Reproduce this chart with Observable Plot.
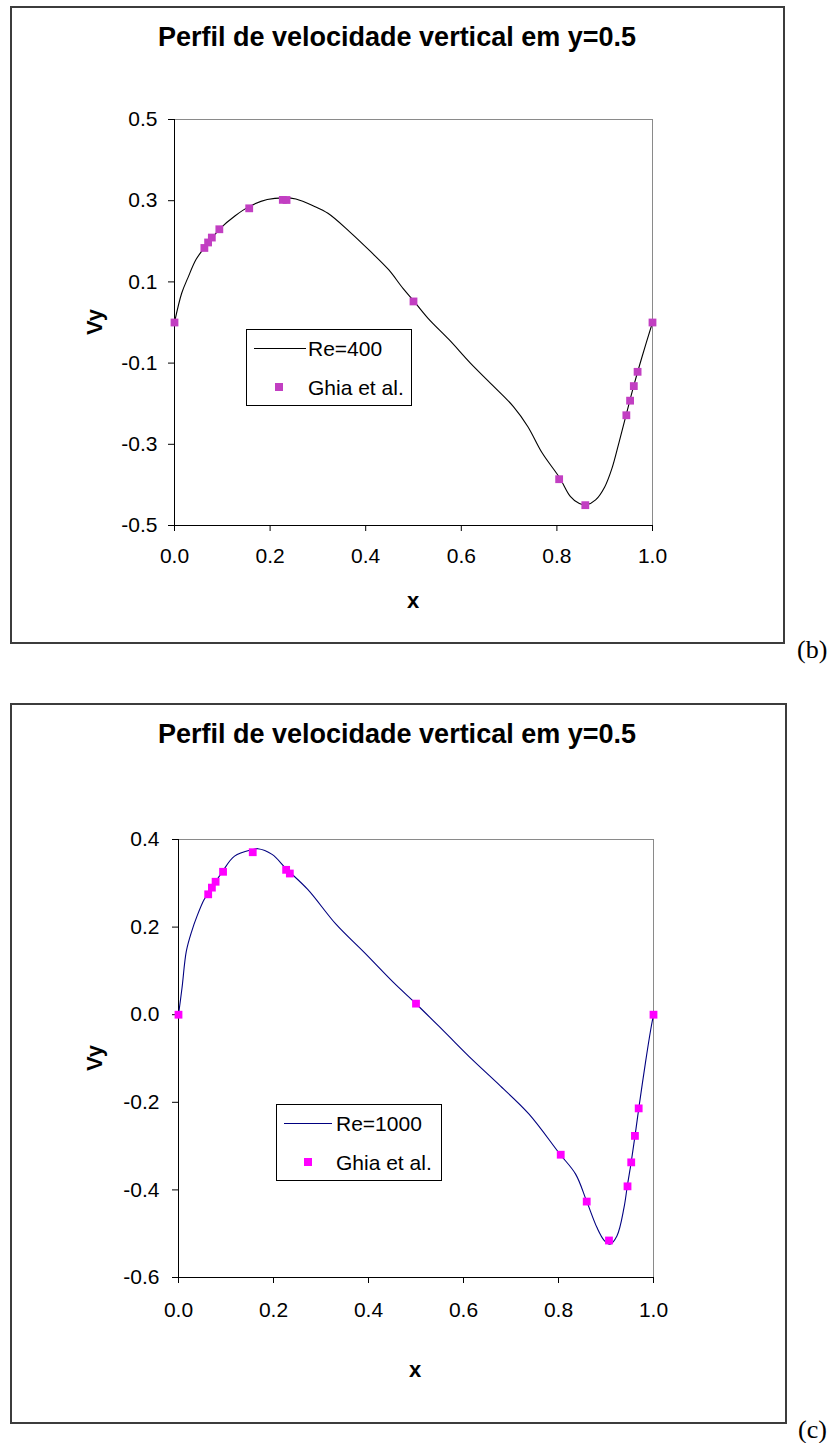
<!DOCTYPE html>
<html><head><meta charset="utf-8">
<script src="https://cdn.jsdelivr.net/npm/d3@7"></script>
<script src="https://cdn.jsdelivr.net/npm/@observablehq/plot@0.6"></script>
<style>
body{margin:0;background:#fff;}
#page{position:relative;width:828px;height:1443px;overflow:hidden;font-family:"Liberation Sans",Arial,sans-serif;color:#000;}
.box{position:absolute;border:2px solid #3c3c3c;box-sizing:border-box;}
.t{position:absolute;white-space:nowrap;line-height:1;transform:translate(-50%,-50%);}
.l{position:absolute;white-space:nowrap;line-height:1;transform:translate(0,-50%);font-size:21px;}
.lg{position:absolute;border:1px solid #000;box-sizing:border-box;background:#fff;}
.tag{position:absolute;font-family:"Liberation Serif","Times New Roman",serif;font-size:26px;line-height:1;transform:translate(0,-50%);}
</style></head><body><div id="page"></div>
<script>
// ---- data ----
const ghiaX400 = [0.0000, 0.0625, 0.0703, 0.0781, 0.0938, 0.1563, 0.2266, 0.2344, 0.5000, 0.8047, 0.8594, 0.9453, 0.9531, 0.9609, 0.9688, 1.0000];
const ghiaV400 = [0.0, 0.18360, 0.19713, 0.20920, 0.22965, 0.28124, 0.30203, 0.30174, 0.05186, -0.38598, -0.44993, -0.22847, -0.19254, -0.15663, -0.12146, 0.0];
const ghiaX1000 = [0.0000, 0.0625, 0.0703, 0.0781, 0.0938, 0.1563, 0.2266, 0.2344, 0.5000, 0.8047, 0.8594, 0.9063, 0.9453, 0.9531, 0.9609, 0.9688, 1.0000];
const ghiaV1000 = [0.0, 0.27485, 0.29012, 0.30353, 0.32627, 0.37095, 0.33075, 0.32235, 0.02526, -0.31966, -0.42665, -0.51550, -0.39188, -0.33714, -0.27669, -0.21388, 0.0];

const simX400 = [0, 0.015, 0.028, 0.045, 0.0625, 0.097, 0.127, 0.157, 0.194, 0.231, 0.254, 0.291, 0.321, 0.366, 0.41, 0.448, 0.478, 0.5, 0.53, 0.575, 0.619, 0.664, 0.709, 0.739, 0.769, 0.806, 0.828, 0.847, 0.862, 0.881, 0.9, 0.915, 0.93, 0.945, 0.961, 0.978, 1.0];
const simV400 = [0, 0.072, 0.11, 0.155, 0.184, 0.233, 0.263, 0.286, 0.303, 0.307, 0.304, 0.287, 0.269, 0.224, 0.175, 0.13, 0.084, 0.054, 0.011, -0.043, -0.1, -0.153, -0.207, -0.256, -0.321, -0.383, -0.428, -0.446, -0.449, -0.437, -0.405, -0.36, -0.295, -0.227, -0.155, -0.085, 0];

const simX1000 = [0, 0.0075, 0.0165, 0.028, 0.039, 0.054, 0.0625, 0.092, 0.118, 0.156, 0.167, 0.197, 0.227, 0.272, 0.332, 0.392, 0.453, 0.5, 0.558, 0.618, 0.678, 0.738, 0.802, 0.836, 0.859, 0.881, 0.896, 0.908, 0.923, 0.938, 0.945, 0.953, 0.961, 0.969, 0.983, 0.994, 1.0];
const simV1000 = [0, 0.062, 0.145, 0.191, 0.225, 0.263, 0.276, 0.326, 0.362, 0.377, 0.379, 0.366, 0.333, 0.286, 0.206, 0.141, 0.073, 0.025, -0.037, -0.102, -0.163, -0.227, -0.317, -0.364, -0.425, -0.486, -0.515, -0.524, -0.505, -0.44, -0.39, -0.337, -0.277, -0.214, -0.11, -0.035, 0];

const xTicks = [0, 0.2, 0.4, 0.6, 0.8, 1.0];
const yTicksB = [-0.5, -0.3, -0.1, 0.1, 0.3, 0.5];
const yTicksC = [-0.6, -0.4, -0.2, 0.0, 0.2, 0.4];

const titleText = "Perfil de velocidade vertical em y=0.5";
const legendLineB = "Re=400";
const legendLineC = "Re=1000";
const legendMarker = "Ghia et al.";

// ---- layout ----
const page = document.getElementById("page");
const fmt = d => d.toFixed(1);

function el(cls, css, text){
  const d = document.createElement("div");
  d.className = cls;
  Object.assign(d.style, css);
  if (text != null) d.textContent = text;
  page.appendChild(d);
  return d;
}

function chart(cfg){
  const sim = cfg.simX.map((x,i)=>({x, v: cfg.simV[i]}));
  const ghia = cfg.gX.map((x,i)=>({x, v: cfg.gV[i]}));
  const svg = Plot.plot({
    width: cfg.w, height: cfg.h,
    marginLeft: cfg.ml, marginRight: cfg.mr, marginTop: cfg.mt, marginBottom: cfg.mb,
    style: {fontSize: "21px", fontFamily: "'Liberation Sans', Arial, sans-serif", color: "#000", background: "transparent", overflow: "visible"},
    x: {domain: [0, 1]},
    y: {domain: cfg.yDomain},
    marks: [
      Plot.frame({stroke: "#8a8a8a"}),
      Plot.ruleX([0], {stroke: "#000"}),
      Plot.ruleY([cfg.yDomain[0]], {stroke: "#000"}),
      Plot.axisX(xTicks, {tickFormat: fmt, tickSize: 6, tickPadding: cfg.xpad, label: null, fontSize: 21}),
      Plot.axisY(cfg.yTicks, {tickFormat: fmt, tickSize: 6, tickPadding: cfg.ypad, label: null, fontSize: 21}),
      Plot.line(sim, {x: "x", y: "v", stroke: cfg.lineColor, strokeWidth: 1.1, curve: "catmull-rom"}),
      Plot.dot(ghia, {x: "x", y: "v", symbol: "square", fill: cfg.markColor, r: 4.4})
    ]
  });
  svg.style.position = "absolute";
  svg.style.left = cfg.left + "px";
  svg.style.top = cfg.top + "px";
  page.appendChild(svg);
}

// chart (b)
el("box", {left:"10px", top:"6px", width:"775px", height:"638px"});
chart({left:10, top:6, w:774, h:637, ml:164, mr:132, mt:113, mb:118, xpad:17, ypad:11,
  yDomain:[-0.5,0.5], yTicks:yTicksB, simX:simX400, simV:simV400, gX:ghiaX400, gV:ghiaV400,
  lineColor:"#000", markColor:"#c23fc2"});
el("t", {left:"397px", top:"37px", fontSize:"27px", fontWeight:"bold"}, titleText);
el("t", {left:"95px", top:"322px", fontSize:"22px", fontWeight:"bold", transform:"translate(-50%,-50%) rotate(-90deg)"}, "Vy");
el("t", {left:"413px", top:"601px", fontSize:"22px", fontWeight:"bold"}, "x");
el("lg", {left:"246px", top:"329px", width:"166px", height:"77px"});
el("", {position:"absolute", left:"254px", top:"348px", width:"52px", height:"1px", background:"#000"});
el("l", {left:"308px", top:"348px"}, legendLineB);
el("", {position:"absolute", left:"275px", top:"383px", width:"8px", height:"8px", background:"#c23fc2"});
el("l", {left:"308px", top:"387px"}, legendMarker);
el("tag", {left:"797px", top:"650px"}, "(b)");

// chart (c)
el("box", {left:"10px", top:"703px", width:"777px", height:"721px"});
chart({left:10, top:703, w:776, h:720, ml:168, mr:133, mt:136, mb:146, xpad:19, ypad:13,
  yDomain:[-0.6,0.4], yTicks:yTicksC, simX:simX1000, simV:simV1000, gX:ghiaX1000, gV:ghiaV1000,
  lineColor:"#000080", markColor:"#ff00ff"});
el("t", {left:"397px", top:"734px", fontSize:"27px", fontWeight:"bold"}, titleText);
el("t", {left:"95px", top:"1058px", fontSize:"22px", fontWeight:"bold", transform:"translate(-50%,-50%) rotate(-90deg)"}, "Vy");
el("t", {left:"415px", top:"1370px", fontSize:"22px", fontWeight:"bold"}, "x");
el("lg", {left:"276px", top:"1104px", width:"166px", height:"77px"});
el("", {position:"absolute", left:"284px", top:"1123px", width:"48px", height:"1px", background:"#000080"});
el("l", {left:"336px", top:"1123px"}, legendLineC);
el("", {position:"absolute", left:"304px", top:"1158px", width:"8px", height:"8px", background:"#ff00ff"});
el("l", {left:"336px", top:"1162px"}, legendMarker);
el("tag", {left:"798px", top:"1430px"}, "(c)");
</script>
</body></html>
